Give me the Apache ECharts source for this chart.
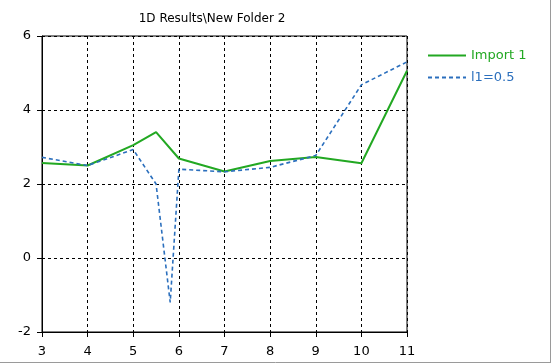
<!DOCTYPE html>
<html>
<head>
<meta charset="utf-8">
<script src="https://cdn.jsdelivr.net/npm/echarts@6/dist/echarts.min.js"></script>
<style>html,body{margin:0;padding:0;background:#fff}#c{width:552px;height:364px}</style>
</head>
<body>
<div id="c"></div>
<script>
var titleText = '1D Results\\New Folder 2';
var seriesNames = ['Import 1', 'l1=0.5'];
var importX = [3, 4, 5, 5.5, 6, 7, 8, 9, 10, 11];
var importY = [2.57, 2.5, 3.05, 3.4, 2.69, 2.34, 2.62, 2.73, 2.56, 5.06];
var l1X = [3, 4, 5, 5.5, 5.81, 6, 7, 8, 9, 10, 11];
var l1Y = [2.72, 2.5, 2.93, 2.0, -1.2, 2.4, 2.33, 2.45, 2.77, 4.68, 5.3];
var xMin = 3, xMax = 11, xStep = 1;
var yMin = -2, yMax = 6, yStep = 2;

function pairs(xs, ys) { return xs.map(function (x, i) { return [x, ys[i]]; }); }

var font = 'DejaVu Sans';
var green = '#22a822';
var blue = '#2b6fbd';
var chart = echarts.init(document.getElementById('c'), null, { renderer: 'canvas' });
chart.setOption({
  animation: false,
  backgroundColor: '#fff',
  grid: { left: 42, right: 145, top: 36, bottom: 32, show: true, borderColor: '#000', borderWidth: 1, backgroundColor: 'transparent' },
  graphic: [
    { type: 'text', x: 212, y: 19, style: { text: titleText, font: '12px "' + font + '"', fill: '#000', textAlign: 'center', textVerticalAlign: 'middle' } },
    { type: 'line', shape: { x1: 550.5, y1: 0, x2: 550.5, y2: 362 }, style: { stroke: '#9a9a9a', lineWidth: 1 } },
    { type: 'line', shape: { x1: 0, y1: 362.5, x2: 551, y2: 362.5 }, style: { stroke: '#9a9a9a', lineWidth: 1 } }
  ],
  legend: {
    orient: 'vertical', left: 422, top: 44, itemWidth: 38, itemHeight: 14, itemGap: 9,
    itemStyle: { opacity: 0 },
    textStyle: { fontFamily: font, fontSize: 13 },
    data: [
      { name: seriesNames[0], textStyle: { color: green } },
      { name: seriesNames[1], textStyle: { color: blue } }
    ]
  },
  xAxis: {
    type: 'value', min: xMin, max: xMax, interval: xStep,
    axisLine: { show: true, onZero: false, lineStyle: { color: '#000', width: 1 } },
    axisTick: { show: true, inside: false, length: 5, lineStyle: { color: '#000' } },
    axisLabel: { color: '#000', fontFamily: font, fontSize: 13, margin: 13 },
    splitLine: { show: true, lineStyle: { color: '#000', type: [3, 3], width: 1 } }
  },
  yAxis: {
    type: 'value', min: yMin, max: yMax, interval: yStep,
    axisLine: { show: true, onZero: false, lineStyle: { color: '#000', width: 1 } },
    axisTick: { show: true, inside: false, length: 5, lineStyle: { color: '#000' } },
    axisLabel: { color: '#000', fontFamily: font, fontSize: 13, margin: 11 },
    splitLine: { show: true, lineStyle: { color: '#000', type: [3, 3], width: 1 } }
  },
  series: [
    { name: seriesNames[0], type: 'line', data: pairs(importX, importY), symbol: 'none', color: green,
      lineStyle: { color: green, width: 2 } },
    { name: seriesNames[1], type: 'line', data: pairs(l1X, l1Y), symbol: 'none', color: blue,
      lineStyle: { color: blue, width: 1.6, type: [4, 3] } }
  ]
});
</script>
</body>
</html>
